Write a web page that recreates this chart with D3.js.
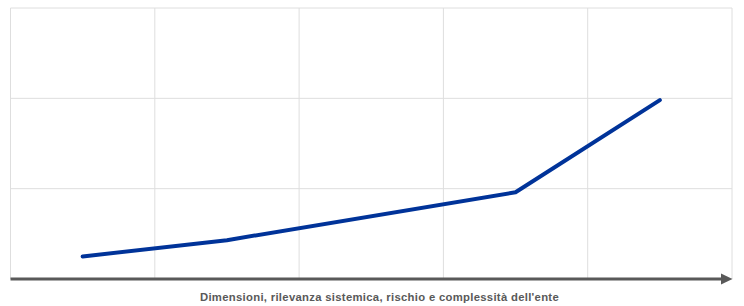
<!DOCTYPE html>
<html>
<head>
<meta charset="utf-8">
<script src="https://cdn.jsdelivr.net/npm/d3@7"></script>
<style>
  html, body { margin: 0; padding: 0; background: #fff; }
  svg { display: block; }
</style>
</head>
<body>
<svg id="chart" width="744" height="306"></svg>
<script>
// Data
const categories = ["1", "2", "3", "4", "5"];
const seriesValues = [0.25, 0.43, null, 0.96, 1.98];
const yTicks = [0, 1, 2, 3];
const axisTitle = "Dimensioni, rilevanza sistemica, rischio e complessità dell'ente";

const W = 744, H = 306;
const margin = { left: 10.5, right: 12, top: 8, bottom: 27 };
const svg = d3.select("#chart");

const x = d3.scaleBand()
  .domain(categories)
  .range([margin.left, W - margin.right])
  .paddingInner(0).paddingOuter(0);

const y = d3.scaleLinear()
  .domain([0, 3])
  .range([H - margin.bottom, margin.top]);

const gridColor = "#dedede";

// horizontal gridlines
svg.append("g")
  .selectAll("line")
  .data(yTicks.filter(d => d > 0))
  .join("line")
  .attr("x1", x.range()[0]).attr("x2", x.range()[1])
  .attr("y1", d => y(d)).attr("y2", d => y(d))
  .attr("stroke", gridColor).attr("stroke-width", 1);

// vertical gridlines (band edges)
const edges = categories.map(c => x(c)).concat([x.range()[1]]);
svg.append("g")
  .selectAll("line")
  .data(edges)
  .join("line")
  .attr("x1", d => d).attr("x2", d => d)
  .attr("y1", y(3)).attr("y2", y(0))
  .attr("stroke", gridColor).attr("stroke-width", 1);

// series line
const pts = categories.map((c, i) => ({ c, v: seriesValues[i] })).filter(d => d.v !== null);
const line = d3.line()
  .x(d => x(d.c) + x.bandwidth() / 2)
  .y(d => y(d.v));
svg.append("path")
  .datum(pts)
  .attr("d", line)
  .attr("fill", "none")
  .attr("stroke", "#003399")
  .attr("stroke-width", 4)
  .attr("stroke-linecap", "round")
  .attr("stroke-linejoin", "round");

// x axis with arrow
const axisY = y(0);
const x0 = x.range()[0], x1 = x.range()[1];
svg.append("line")
  .attr("x1", x0).attr("x2", x1 - 10)
  .attr("y1", axisY).attr("y2", axisY)
  .attr("stroke", "#595959").attr("stroke-width", 3);
svg.append("path")
  .attr("d", `M${x1 - 11},${axisY - 5.5} L${x1 + 0.5},${axisY} L${x1 - 11},${axisY + 5.5} Z`)
  .attr("fill", "#595959");

// axis title
svg.append("text")
  .attr("x", 379.5)
  .attr("y", 301)
  .attr("text-anchor", "middle")
  .attr("font-family", "Liberation Sans, Arial, sans-serif")
  .attr("font-weight", "bold")
  .attr("font-size", 11.3)
  .attr("letter-spacing", 0.3)
  .attr("fill", "#595959")
  .text(axisTitle);
</script>
</body>
</html>
